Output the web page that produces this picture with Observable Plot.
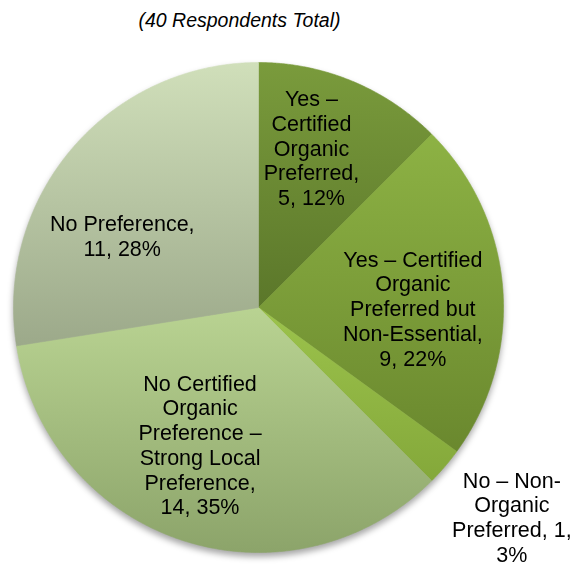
<!DOCTYPE html>
<html><head><meta charset="utf-8">
<script src="https://cdn.jsdelivr.net/npm/d3@7"></script>
<script src="https://cdn.jsdelivr.net/npm/@observablehq/plot@0.6"></script>
<style>
body{margin:0;background:#fff;font-family:"Liberation Sans",Arial,sans-serif;}
#title{width:479px;height:40px;line-height:40px;text-align:center;font-style:italic;font-size:19.5px;color:#000;}
</style></head><body>
<div id="chart"><div id="title">(40 Respondents Total)</div></div>
<script>
// ---- data ----
const categories = [
  "Yes – Certified Organic Preferred",
  "Yes – Certified Organic Preferred but Non-Essential",
  "No – Non-Organic Preferred",
  "No Certified Organic Preference – Strong Local Preference",
  "No Preference"
];
const values = [5, 9, 1, 14, 11];
const pctLabels = ["12%", "22%", "3%", "35%", "28%"];
const labelTexts = [
  "Yes –\nCertified\nOrganic\nPreferred,\n5, 12%",
  "Yes – Certified\nOrganic\nPreferred but\nNon-Essential,\n9, 22%",
  "No – Non-\nOrganic\nPreferred, 1,\n3%",
  "No Certified\nOrganic\nPreference –\nStrong Local\nPreference,\n14, 35%",
  "No Preference,\n11, 28%"
];
const topColors    = ["#7a9b3c", "#8db244", "#9cc34c", "#b9d392", "#d0dfba"];
const bottomColors = ["#5b772a", "#6a882e", "#84a83a", "#8ca46a", "#9ca98a"];

// ---- layout ----
const W = 576, H = 525, cx = 258, cy = 267, R = 245;
const labelNudge = [[-7,-15],[-2,13],[0,-7],[-10,-12],[-17,30]];

const arcs = d3.pie().sort(null).value(d => d)(values);
const slices = arcs.map((a, i) => {
  const pts = [{x: cx, y: cy}];
  const n = Math.max(4, Math.ceil((a.endAngle - a.startAngle) / 0.005));
  for (let k = 0; k <= n; k++) {
    const t = a.startAngle + (a.endAngle - a.startAngle) * k / n;
    pts.push({x: cx + R * Math.sin(t), y: cy - R * Math.cos(t)});
  }
  pts.push({x: cx, y: cy});
  return pts;
});
const labelData = arcs.map((a, i) => {
  const m = (a.startAngle + a.endAngle) / 2;
  const small = values[i] / d3.sum(values) < 0.05;
  const r = R * (small ? 1.36 : 0.64);
  return {
    x: cx + r * Math.sin(m) + labelNudge[i][0],
    y: cy - r * Math.cos(m) + labelNudge[i][1],
    text: labelTexts[i]
  };
});

const plot = Plot.plot({
  width: W, height: H, margin: 0,
  x: {type: "linear", domain: [0, W], range: [0, W], axis: null},
  y: {type: "linear", domain: [0, H], range: [0, H], axis: null},
  marks: [
    ...slices.map((pts, i) => Plot.line(pts, {
      x: "x", y: "y", fill: `url(#g${i})`, stroke: `url(#g${i})`, strokeWidth: 0.6, curve: "linear"
    })),
    Plot.text(labelData, {
      x: "x", y: "y", text: "text", fontSize: 21.5, lineHeight: 1.15,
      fill: "#000", fontFamily: "Liberation Sans, Arial, sans-serif", textAnchor: "middle"
    })
  ]
});

const svg = d3.select(plot);
const defs = svg.insert("defs", ":first-child");
topColors.forEach((c, i) => {
  const g = defs.append("linearGradient").attr("id", `g${i}`)
    .attr("x1", 0).attr("y1", 0).attr("x2", 0).attr("y2", 1);
  g.append("stop").attr("offset", "0%").attr("stop-color", c);
  g.append("stop").attr("offset", "100%").attr("stop-color", bottomColors[i]);
});
// wrap slices in a group with a soft shadow
const lineGroups = svg.selectAll("g[aria-label='line']").nodes();
if (lineGroups.length) {
  const wrap = svg.insert("g", () => lineGroups[0]).style("filter", "drop-shadow(0px 4px 3px rgba(0,0,0,0.35))");
  lineGroups.forEach(n => wrap.node().appendChild(n));
}
document.getElementById("chart").appendChild(plot);
</script>
</body></html>
